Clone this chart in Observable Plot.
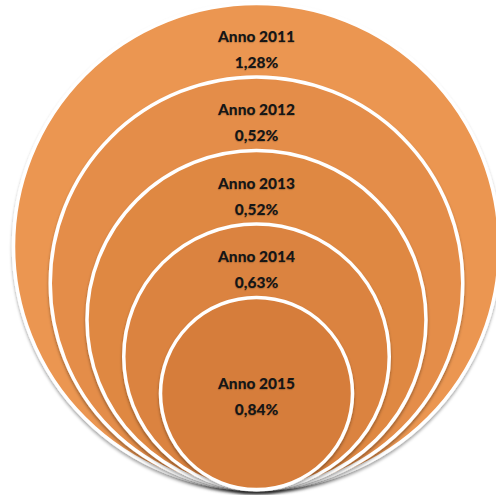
<!DOCTYPE html>
<html>
<head>
<meta charset="utf-8">
<script src="https://cdn.jsdelivr.net/npm/d3@7"></script>
<script src="https://cdn.jsdelivr.net/npm/@observablehq/plot@0.6"></script>
<style>
  html, body { margin: 0; padding: 0; background: #ffffff; }
  #chart { width: 496px; height: 495px; overflow: hidden; }
</style>
</head>
<body>
<div id="chart"></div>
<script>
// Data
const years = [2011, 2012, 2013, 2014, 2015];
const values = [1.28, 0.52, 0.52, 0.63, 0.84];
const valueLabels = ["1,28%", "0,52%", "0,52%", "0,63%", "0,84%"];
const fills = ["#EB9651", "#E48D48", "#DF8843", "#DB833F", "#D67D3A"];

// Layout: nested circles, each one step smaller, all touching the bottom
const W = 496, H = 495, BASE = 489;
const radius = d3.scaleLinear().domain([0, years.length - 1]).range([243, 96]);
const LABEL_OFFSET = 43;

const rows = years.map((year, i) => {
  const r = radius(i);
  const inner = i === years.length - 1;
  return {
    year,
    value: values[i],
    label: `Anno ${year}\n${valueLabels[i]}`,
    fill: fills[i],
    r,
    cy: r,                               // height of centre above the base line
    ly: inner ? r : 2 * r - LABEL_OFFSET // label height above the base line
  };
});

const CX = 256;

const plot = Plot.plot({
  width: W,
  height: H,
  margin: 0,
  x: { domain: [-CX, W - CX], range: [0, W], axis: null },
  y: { domain: [0, BASE], range: [BASE, 0], axis: null },
  r: { type: "identity" },
  marks: [
    Plot.dot(rows, {
      x: () => 0,
      y: "cy",
      r: "r",
      fill: "fill",
      stroke: "#ffffff",
      strokeWidth: 3.5,
      sort: { channel: "r", order: "descending" }
    }),
    Plot.text(rows, {
      x: () => 0,
      y: "ly",
      text: "label",
      fill: "#161616",
      fontSize: 15.5,
      fontWeight: 900,
      lineHeight: 1.68,
      fontFamily: "Lato, 'Open Sans', sans-serif"
    })
  ]
});

// soft drop shadow on each circle, like the reference
const svg = d3.select(plot);
const defs = svg.insert("defs", ":first-child");
const f = defs.append("filter").attr("id", "shadow")
  .attr("x", "-10%").attr("y", "-10%").attr("width", "120%").attr("height", "120%");
f.append("feDropShadow").attr("dx", 0).attr("dy", 2.5).attr("stdDeviation", 1.8)
  .attr("flood-color", "#000").attr("flood-opacity", 0.35);
svg.selectAll("circle").attr("filter", "url(#shadow)");
svg.selectAll("text").style("text-shadow", "0 1px 1px rgba(0,0,0,0.2)");

document.getElementById("chart").appendChild(plot);
</script>
</body>
</html>
